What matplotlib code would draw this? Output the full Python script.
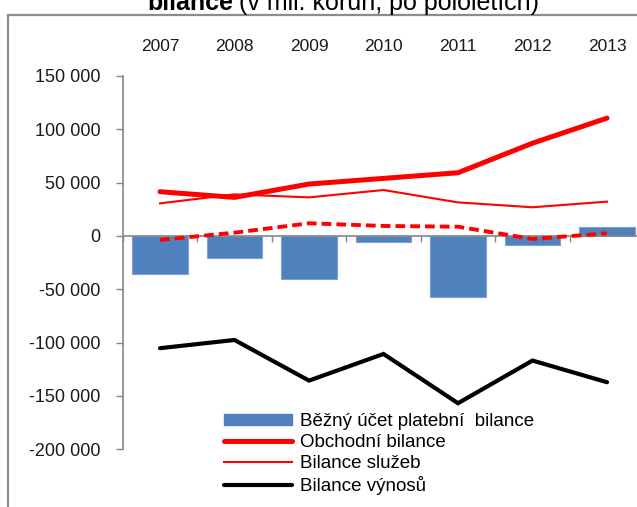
import matplotlib
matplotlib.use('Agg')
from matplotlib import pyplot as plt
from matplotlib.patches import Rectangle, Patch
from matplotlib.lines import Line2D
from matplotlib.ticker import FuncFormatter, FixedLocator
import numpy as np

plt.rcParams['font.family'] = ['Liberation Sans', 'DejaVu Sans']

# Data (mil. Kč)
roky = ['2007', '2008', '2009', '2010', '2011', '2012', '2013']
bezny_ucet = [-36100, -21000, -40000, -5300, -57000, -8400, 8700]
obchodni_bilance = [41500, 36200, 48700, 54000, 59300, 87000, 110500]
bilance_sluzeb = [30600, 39000, 36200, 43100, 31500, 26900, 32200]
bezne_prevody = [-3700, 3100, 11900, 9400, 8700, -2800, 2500]
bilance_vynosu = [-105200, -97500, -135600, -110600, -156800, -116800, -137100]

W, H = 637, 507
fig = plt.figure(figsize=(W / 100, H / 100), dpi=100)

# Frame around the chart (partially clipped)
fig.patches.append(Rectangle((8 / W, -0.1), 1.2, 1 - 15 / H + 0.1,
                             transform=fig.transFigure, fill=False,
                             edgecolor='#8c8c8c', linewidth=1.6))

# Clipped title
fig.text(233 / W, 1 - 10 / H, 'bilance', fontsize=18, fontweight='bold',
         ha='right', va='baseline')
fig.text(239 / W, 1 - 10 / H, '(v mil. korun, po pololetích)', fontsize=18,
         ha='left', va='baseline')

ax = fig.add_axes([122.75 / W, 1 - 449.3 / H, 521.5 / W, (449.3 - 76) / H])
ax.set_facecolor('none')

x = np.arange(len(roky))
ax.bar(x, bezny_ucet, width=0.74, color='#4F81BD', edgecolor='#7DA0CE',
       linewidth=0.8, zorder=2)
ax.plot(x, obchodni_bilance, color='#FF0000', linewidth=3.6,
        solid_capstyle='round', zorder=3)
ax.plot(x, bilance_sluzeb, color='#FF0000', linewidth=1.5, zorder=3)
ax.plot(x, bezne_prevody, color='#FF0000', linewidth=2.8,
        linestyle=(0, (2.5, 1.3)), zorder=3)
ax.plot(x, bilance_vynosu, color='#000000', linewidth=3.0,
        solid_capstyle='round', solid_joinstyle='miter', zorder=3)

ax.set_xlim(-0.5, len(roky) - 0.5)
ax.set_ylim(-200000, 150000)

# Spines
for s in ['top', 'right']:
    ax.spines[s].set_visible(False)
ax.spines['left'].set_color('#868686')
ax.spines['left'].set_linewidth(1.2)
ax.spines['bottom'].set_position(('data', 0))
ax.spines['bottom'].set_color('#868686')
ax.spines['bottom'].set_linewidth(1.2)
ax.spines['bottom'].set_zorder(2.5)

# Y axis
ax.set_yticks(np.arange(-200000, 150001, 50000))
ax.yaxis.set_major_formatter(FuncFormatter(lambda v, p: f'{int(v):,}'.replace(',', ' ')))
ax.tick_params(axis='y', direction='out', length=5, width=1.0, color='#868686',
               pad=11, labelsize=13, labelcolor='#1a1a1a')

# X axis: labels on top, tick marks at boundaries on zero line
ax.set_xticks(x)
ax.set_xticklabels(roky)
ax.xaxis.set_minor_locator(FixedLocator(np.arange(-0.5, len(roky), 1.0)))
ax.tick_params(axis='x', which='major', bottom=False, top=False,
               labelbottom=False, labeltop=True, length=0, pad=16,
               labelsize=12.5, labelcolor='#1a1a1a')
ax.tick_params(axis='x', which='minor', bottom=True, direction='out',
               length=4, width=1.0, color='#868686')

# Legend
handles = [
    Patch(facecolor='#4F81BD', edgecolor='#4F81BD'),
    Line2D([], [], color='#FF0000', linewidth=3.6, solid_capstyle='round'),
    Line2D([], [], color='#FF0000', linewidth=1.5),
    Line2D([], [], color='#000000', linewidth=3.0, solid_capstyle='round'),
]
labels = ['Běžný účet platební  bilance', 'Obchodní bilance',
          'Bilance služeb', 'Bilance výnosů']
leg = fig.legend(handles, labels, loc='upper left',
                 bbox_to_anchor=(224 / W, 1 - 413 / H),
                 frameon=False, fontsize=13.5, handlelength=3.6,
                 handleheight=0.5, handletextpad=0.45, labelspacing=0.22,
                 borderpad=0, borderaxespad=0)

fig.savefig('out.png', dpi=100, facecolor='white')
